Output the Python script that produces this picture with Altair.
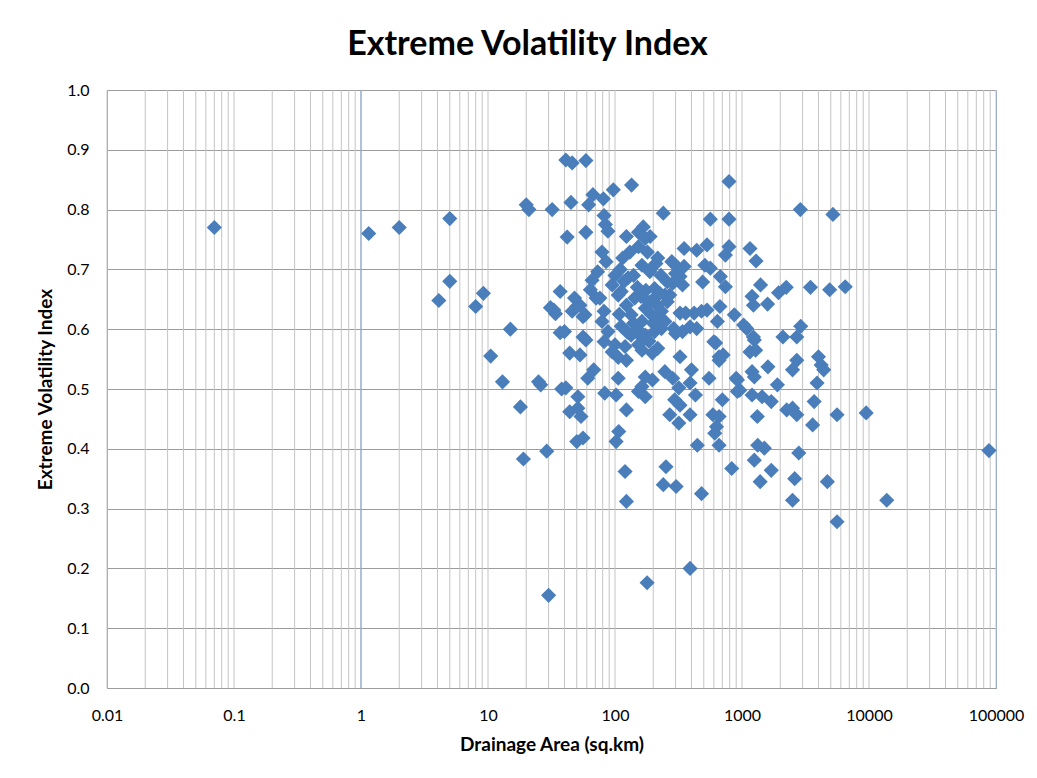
import altair as alt
import pandas as pd

# Drainage area (sq.km) and Extreme Volatility Index
area = [
    0.07, 1.15, 2.0, 5.0, 4.1, 5.0, 8.0, 9.2, 15, 10.5, 13, 18, 19, 20, 21, 25, 26, 29, 30, 32, 31, 34, 37, 38,
    41, 46, 59, 45, 62, 67, 81, 97, 135, 240, 42, 59, 82, 84, 88, 123, 167, 189, 153, 153, 173, 217, 79, 85, 73,
    66, 64, 71, 48, 46, 58, 53, 40, 56, 82, 79, 88, 100, 112, 123, 134, 163, 194, 232, 247, 258, 163, 188, 127,
    143, 173, 134, 173, 205, 232, 258, 106, 95, 115, 131, 180, 205, 247, 100, 82, 120, 153, 217, 37, 33, 50, 56,
    59, 76,
    44, 53, 95, 106, 123, 163, 197, 68, 61, 106, 173, 163, 197, 247, 325, 285, 318, 400, 390, 430, 550, 660, 710,
    900, 960, 1156, 1280, 1200, 1250, 1600, 1900, 41, 51, 83, 102, 153, 173, 44, 54, 51, 123, 295, 325, 390, 270,
    318, 700, 590, 660, 630, 610, 1320, 1200, 1440, 1700, 50, 56, 107, 102, 445, 660, 1330, 1500, 1250, 120, 252,
    830, 1700, 240, 303, 123, 179, 390,
    2100, 2700, 620, 660, 2700, 2500, 4000, 4200, 4400, 3900, 920, 920, 2250, 2500, 2700, 3700, 5600, 9500, 3600,
    2800, 88000, 480, 1390, 2600, 4700, 2500, 13800, 5600,
    790, 2880, 5200, 563, 790, 350, 440, 530, 790, 740, 1156, 1290, 300, 350, 510, 563, 325, 490, 675, 740, 1400,
    1200, 1230, 1590, 1940, 2230, 3460, 4900, 6500, 325, 420, 530, 670, 870, 640, 1030, 1230, 2900, 300, 390, 280,
    300, 285, 340, 270, 360, 480, 1090, 290, 340, 440, 600, 1250,
    110, 118, 140, 150, 160, 175, 185, 200, 215, 225, 140, 150, 165, 185, 200, 112, 125, 108, 190, 210, 230, 225,
]
evi = [
    0.77, 0.76, 0.77, 0.785, 0.648, 0.68, 0.638, 0.66, 0.60, 0.555, 0.512, 0.47, 0.383, 0.808, 0.80, 0.512, 0.507,
    0.396, 0.155, 0.80, 0.636, 0.626, 0.594, 0.50,
    0.883, 0.878, 0.882, 0.812, 0.808, 0.825, 0.818, 0.833, 0.841, 0.794, 0.754, 0.762, 0.79, 0.775, 0.764, 0.755,
    0.771, 0.755, 0.738, 0.762, 0.752, 0.719, 0.729, 0.713, 0.696, 0.682, 0.666, 0.652, 0.652, 0.63, 0.624, 0.64,
    0.596, 0.587, 0.63, 0.613, 0.596, 0.69, 0.663, 0.64, 0.624, 0.613, 0.624, 0.63, 0.657, 0.679, 0.707, 0.696,
    0.686, 0.652, 0.635, 0.59, 0.59, 0.596, 0.601, 0.646, 0.657, 0.674, 0.719, 0.729, 0.729, 0.668, 0.613, 0.574,
    0.579, 0.571, 0.574, 0.568, 0.663, 0.632, 0.638, 0.621, 0.582, 0.652,
    0.56, 0.557, 0.562, 0.553, 0.548, 0.565, 0.56, 0.532, 0.518, 0.518, 0.52, 0.504, 0.515, 0.529, 0.554, 0.518,
    0.502, 0.532, 0.51, 0.49, 0.518, 0.548, 0.557, 0.518, 0.498, 0.562, 0.565, 0.529, 0.52, 0.537, 0.507, 0.502,
    0.487, 0.493, 0.49, 0.496, 0.487, 0.462, 0.454, 0.468, 0.465, 0.482, 0.473, 0.457, 0.457, 0.443, 0.482, 0.457,
    0.454, 0.437, 0.426, 0.454, 0.49, 0.487, 0.479, 0.412, 0.418, 0.429, 0.412, 0.406, 0.406, 0.406, 0.401, 0.381,
    0.362, 0.37, 0.367, 0.364, 0.34, 0.337, 0.312, 0.176, 0.20,
    0.587, 0.587, 0.577, 0.554, 0.548, 0.532, 0.554, 0.54, 0.532, 0.51, 0.515, 0.496, 0.465, 0.468, 0.457, 0.479,
    0.457, 0.46, 0.44, 0.393, 0.397, 0.325, 0.345, 0.35, 0.345, 0.314, 0.314, 0.278,
    0.847, 0.80, 0.792, 0.784, 0.784, 0.735, 0.732, 0.741, 0.738, 0.724, 0.735, 0.714, 0.707, 0.705, 0.707, 0.702,
    0.688, 0.679, 0.688, 0.671, 0.674, 0.655, 0.64, 0.642, 0.661, 0.67, 0.67, 0.666, 0.671, 0.627, 0.627, 0.632,
    0.638, 0.624, 0.613, 0.607, 0.587, 0.605, 0.593, 0.604, 0.713, 0.693, 0.677, 0.674, 0.657, 0.627, 0.63, 0.601,
    0.601, 0.596, 0.601, 0.579, 0.582,
    0.70, 0.68, 0.69, 0.67, 0.655, 0.665, 0.645, 0.65, 0.64, 0.62, 0.61, 0.60, 0.585, 0.58, 0.61, 0.605, 0.595,
    0.625, 0.70, 0.71, 0.69, 0.66,
]

x_ticks = [0.01, 0.1, 1, 10, 100, 1000, 10000, 100000]
y_ticks = [0.0, 0.1, 0.2, 0.3, 0.4, 0.5, 0.6, 0.7, 0.8, 0.9, 1.0]
grid_values = [m * d for d in [0.01, 0.1, 1, 10, 100, 1000, 10000] for m in range(1, 10)] + [100000]
axis_cross = [1]

df = pd.DataFrame({"area": area, "evi": evi})
grid_df = pd.DataFrame({"area": grid_values})
cross_df = pd.DataFrame({"area": axis_cross})

xscale = alt.Scale(type="log", domain=[0.01, 100000], nice=False)
yscale = alt.Scale(domain=[0, 1], nice=False, zero=True)

xaxis = alt.Axis(
    values=x_ticks,
    labelExpr="datum.value >= 1 ? format(datum.value, 'd') : format(datum.value, '.2~f')",
    title="Drainage Area (sq.km)",
    grid=False,
    ticks=False,
    domain=False,
    labelPadding=19,
    titlePadding=12,
    labelFlush=False,
)
yaxis = alt.Axis(
    values=y_ticks,
    format=".1f",
    title="Extreme Volatility Index",
    grid=True,
    gridColor="#9C9C9C",
    gridWidth=1,
    ticks=False,
    domain=False,
    labelPadding=18,
    titlePadding=11,
)

grid = alt.Chart(grid_df).mark_rule(color="#C4C4C4", strokeWidth=1).encode(
    x=alt.X("area:Q", scale=xscale, axis=xaxis)
)

cross = alt.Chart(cross_df).mark_rule(color="#7D9FD3", strokeWidth=1).encode(
    x=alt.X("area:Q", scale=xscale, axis=xaxis)
)

points = alt.Chart(df).mark_point(
    shape="diamond", filled=True, size=230, color="#4A7EBB", opacity=1
).encode(
    x=alt.X("area:Q", scale=xscale, axis=xaxis),
    y=alt.Y("evi:Q", scale=yscale, axis=yaxis),
)

chart = (
    alt.layer(grid, cross, points)
    .properties(
        width=889,
        height=598,
        autosize=alt.AutoSizeParams(type="none"),
        padding={"left": 99, "top": 82, "right": 33, "bottom": 82},
        title=alt.TitleParams(
            "Extreme Volatility Index",
            fontSize=34,
            font="Lato",
            fontWeight="bold",
            color="#000000",
            anchor="middle",
            dx=-24,
            offset=20,
        ),
    )
    .configure_view(stroke="#7D9FD3", strokeWidth=1)
    .configure_axis(
        labelFont="Lato",
        labelFontSize=16,
        labelColor="#000000",
        titleFont="Lato",
        titleFontSize=19,
        titleFontWeight="bold",
        titleColor="#000000",
    )
)

chart.save("out.html", embed_options={"renderer": "svg", "actions": False})
